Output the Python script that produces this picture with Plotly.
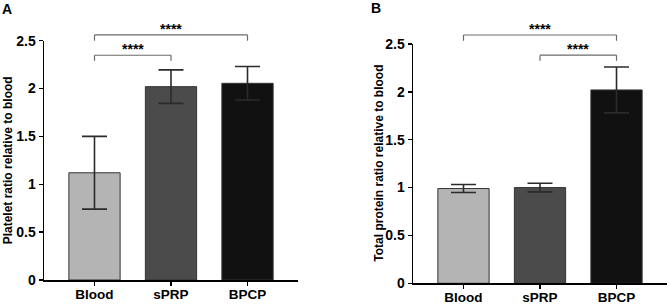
import plotly.graph_objects as go

categories = ["Blood", "sPRP", "BPCP"]
colors = ["#b4b4b4", "#4b4b4b", "#111111"]

platelet_mean = [1.12, 2.02, 2.055]
platelet_err = [0.38, 0.175, 0.175]

protein_mean = [0.99, 1.00, 2.02]
protein_err = [0.042, 0.045, 0.24]

yticks = [0, 0.5, 1, 1.5, 2, 2.5]
yticklabels = ["0", "0.5", "1", "1.5", "2", "2.5"]

# significance brackets: (from index, to index, height, drop, label)
sig_a = [(0, 1, 2.348, 0.058, "****"), (0, 2, 2.56, 0.06, "****")]
sig_b = [(0, 2, 2.594, 0.06, "****"), (1, 2, 2.383, 0.058, "****")]

W, H = 669, 304
FONT = "Liberation Sans, Arial, sans-serif"
XR = [-0.66, 2.66]
YR = [0, 2.5]


def xd(v):
    return (v - XR[0]) / (XR[1] - XR[0])


def yd(v):
    return (v - YR[0]) / (YR[1] - YR[0])


fig = go.Figure()

panels = [
    dict(xa="x", ya="y", mean=platelet_mean, err=platelet_err, sig=sig_a,
         xdom=[44 / W, 298 / W], ydom=[1 - 280 / H, 1 - 40.7 / H],
         title="Platelet ratio relative to blood", tx=8, letter="A", lx=7, ly=9),
    dict(xa="x2", ya="y2", mean=protein_mean, err=protein_err, sig=sig_b,
         xdom=[413 / W, 667 / W], ydom=[1 - 283.3 / H, 1 - 44 / H],
         title="Total protein ratio relative to blood", tx=379, letter="B", lx=376, ly=8),
]

shapes = []
annotations = []
for i, p in enumerate(panels):
    fig.add_trace(go.Bar(
        x=categories, y=p["mean"], xaxis=p["xa"], yaxis=p["ya"],
        marker=dict(color=colors, line=dict(color="#333333", width=1)),
        error_y=dict(type="data", array=p["err"], visible=True,
                     color="#2b2b2b", thickness=1.6, width=12.5),
        showlegend=False, hoverinfo="skip",
    ))
    sfx = "" if i == 0 else "2"
    fig.update_layout(**{
        "xaxis" + sfx: dict(domain=p["xdom"], anchor="y" + sfx, range=XR,
                            automargin=False,
                            showline=True, linecolor="black", linewidth=1.5,
                            ticks="outside", ticklen=4, tickwidth=1.5, tickcolor="black",
                            ticklabelstandoff=-3,
                            tickfont=dict(family=FONT, size=13.5, color="black", weight="bold"),
                            showgrid=False, zeroline=False, fixedrange=True),
        "yaxis" + sfx: dict(domain=p["ydom"], anchor="x" + sfx, range=YR,
                            automargin=False,
                            tickvals=yticks, ticktext=yticklabels,
                            showline=True, linecolor="black", linewidth=1.5,
                            ticks="outside", ticklen=4, tickwidth=1.5, tickcolor="black",
                            tickfont=dict(family=FONT, size=14, color="black", weight="bold"),
                            showgrid=False, zeroline=False, fixedrange=True),
    })
    xref = p["xa"] + " domain"
    yref = p["ya"] + " domain"
    for (a, b, h, d, lab) in p["sig"]:
        for (x0, x1, y0, y1) in [(a, a, h - d, h), (a, b, h, h), (b, b, h, h - d)]:
            shapes.append(dict(type="line", xref=xref, yref=yref,
                               x0=xd(x0), x1=xd(x1), y0=yd(y0), y1=yd(y1),
                               line=dict(color="#6a6a6a", width=1.2)))
        annotations.append(dict(x=xd((a + b) / 2), y=yd(h), xref=xref, yref=yref,
                                text=lab, showarrow=False, yanchor="bottom", yshift=-4,
                                font=dict(family=FONT, size=14, color="black", weight="bold")))
    annotations.append(dict(x=p["tx"] / W, y=0.5, xref="paper", yref=yref,
                            text=p["title"], textangle=-90, showarrow=False,
                            xanchor="center", yanchor="middle",
                            font=dict(family=FONT, size=12, color="black", weight="bold")))
    annotations.append(dict(x=p["lx"] / W, y=1 - p["ly"] / H, xref="paper", yref="paper",
                            text=p["letter"], showarrow=False,
                            xanchor="center", yanchor="middle",
                            font=dict(family=FONT, size=14, color="black", weight="bold")))

fig.update_layout(
    width=W, height=H, margin=dict(l=0, r=0, t=0, b=0, autoexpand=False),
    paper_bgcolor="white", plot_bgcolor="white",
    bargap=0.33, shapes=shapes, annotations=annotations,
    font=dict(family=FONT), hovermode=False,
)

fig.write_html(
    "out.html",
    config={"displayModeBar": False, "staticPlot": True},
    post_script="document.body.style.margin='0';document.body.style.overflow='hidden';",
)
